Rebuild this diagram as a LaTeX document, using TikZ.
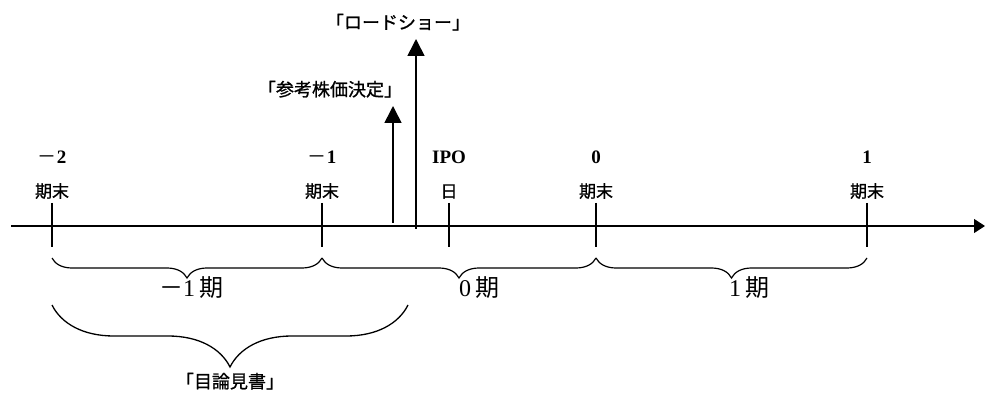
\documentclass[tikz,border=0pt]{standalone}
\usepackage{fontspec}
\setmainfont{Liberation Serif}
\newfontfamily\jp{Noto Sans CJK JP}
\newfontfamily\jpm[FakeBold=1]{Noto Sans CJK JP}
\usetikzlibrary{arrows.meta,decorations.pathreplacing}
\tikzset{
  tick/.style={line width=1.3pt},
  axisline/.style={line width=1.1pt,-{Triangle[length=11pt,width=14pt]}},
  evarrow/.style={line width=1.6pt,-{Triangle[length=17pt,width=17pt]}},
  smallbrace/.style={decorate,decoration={brace,mirror,amplitude=20pt},line width=1.2pt},
  bigbrace/.style={decorate,decoration={brace,mirror,amplitude=62pt},line width=1.3pt},
  numlbl/.style={font=\bfseries\fontsize{19}{19}\selectfont,anchor=base},
  kimatsu/.style={font=\jpm\fontsize{17}{17}\selectfont,anchor=base},
  periodlbl/.style={font=\fontsize{24}{24}\selectfont,anchor=base},
  eventlbl/.style={font=\jpm\fontsize{18}{18}\selectfont,anchor=base}
}
\begin{document}
\begin{tikzpicture}[x=1pt,y=1pt]
\useasboundingbox (0,0) rectangle (985,394);
% axis
\coordinate (axL) at (11,168);
\coordinate (axR) at (985,168);
\draw[axisline] (axL) -- (axR);
% ticks
\foreach \n/\x in {m2/52, m1/322, ipo/449, z/596, one/867}{
  \coordinate (\n top) at (\x,191);
  \coordinate (\n bot) at (\x,147);
  \draw[tick] (\n top) -- (\n bot);
}
% tick labels
\node[numlbl] (nm2) at (52,230) {{\jp\mdseries －}2};
\node[kimatsu] (km2) at (52,196.5) {期末};
\node[numlbl] (nm1) at (322,230) {{\jp\mdseries －}1};
\node[kimatsu] (km1) at (322,196.5) {期末};
\node[numlbl] (nipo) at (449,230) {IPO};
\node[kimatsu] (kipo) at (449,196.5) {日};
\node[numlbl] (nz) at (596,230) {0};
\node[kimatsu] (kz) at (596,196.5) {期末};
\node[numlbl] (none) at (867,230) {1};
\node[kimatsu] (kone) at (867,196.5) {期末};
% event arrows
\coordinate (a1s) at (393,171);
\coordinate (a1e) at (393,288);
\draw[evarrow] (a1s) -- (a1e);
\coordinate (a2s) at (416,165);
\coordinate (a2e) at (416,355);
\draw[evarrow] (a2s) -- (a2e);
\node[eventlbl] (sanko) at (330,298) {「参考株価決定」};
\node[eventlbl] (road) at (398,365) {「ロードショー」};
% braces
\coordinate (b1) at (52,136);
\coordinate (b2) at (322,136);
\coordinate (b3) at (596,136);
\coordinate (b4) at (867,136);
\draw[smallbrace] (b1) -- (b2);
\draw[smallbrace] (b2) -- (b3);
\draw[smallbrace] (b3) -- (b4);
\node[periodlbl] (p1) at (191,98) {{\jp －}1\,{\jp 期}};
\node[periodlbl] (p2) at (479,98) {0\,{\jp 期}};
\node[periodlbl] (p3) at (749,98) {1\,{\jp 期}};
\coordinate (bb1) at (52,89);
\coordinate (bb2) at (408,89);
\draw[bigbrace] (bb1) -- (bb2);
\node[eventlbl] (mokuron) at (230,6) {「目論見書」};
\end{tikzpicture}
\end{document}
